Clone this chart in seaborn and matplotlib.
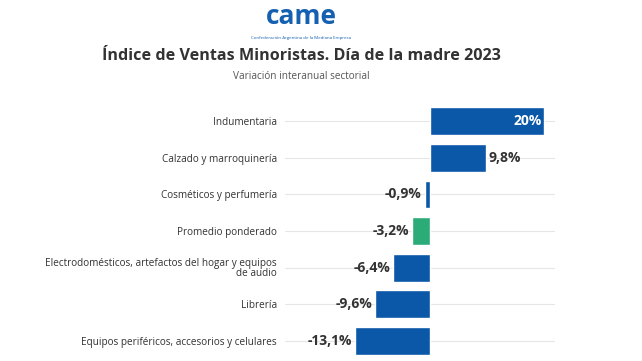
import matplotlib
matplotlib.use("Agg")
import matplotlib.pyplot as plt
import seaborn as sns
import pandas as pd

categories = [
    "Indumentaria",
    "Calzado y marroquinería",
    "Cosméticos y perfumería",
    "Promedio ponderado",
    "Electrodomésticos, artefactos del hogar y equipos\nde audio",
    "Librería",
    "Equipos periféricos, accesorios y celulares",
]
values = [20, 9.8, -0.9, -3.2, -6.4, -9.6, -13.1]
labels = ["20%", "9,8%", "-0,9%", "-3,2%", "-6,4%", "-9,6%", "-13,1%"]
kind = ["rubro", "rubro", "rubro", "promedio", "rubro", "rubro", "rubro"]

BLUE = "#0b57a8"
GREEN = "#2bab78"
TXT = "#333333"

sns.set_theme(style="white")
plt.rcParams["font.family"] = ["Open Sans", "DejaVu Sans"]

df = pd.DataFrame({"cat": categories, "val": values, "kind": kind})

fig = plt.figure(figsize=(6.42, 3.61), dpi=100)
ax = fig.add_axes([0.444, 0.0, 0.42, 0.715])

sns.barplot(data=df, x="val", y="cat", hue="kind", orient="h",
            palette={"rubro": BLUE, "promedio": GREEN}, saturation=1,
            width=0.76, legend=False, ax=ax)

ax.set_xlim(-25.4, 21.9)
ax.set_ylim(6.55, -0.5)
ax.set_xlabel("")
ax.set_ylabel("")
ax.set_xticks([])
for s in ax.spines.values():
    s.set_visible(False)
for i in range(len(categories)):
    ax.axhline(i, color="#e6e6e6", lw=0.8, zorder=0)
ax.tick_params(axis="y", length=0, pad=6, labelsize=7.2, labelcolor=TXT)
for t in ax.get_yticklabels():
    t.set_linespacing(0.9)

for i, (v, lab) in enumerate(zip(values, labels)):
    if v >= 15:
        ax.text(v - 0.4, i, lab, ha="right", va="center", color="white",
                fontsize=10, fontweight="bold")
    elif v > 0:
        ax.text(v + 0.5, i, lab, ha="left", va="center", color=TXT,
                fontsize=10, fontweight="bold")
    else:
        ax.text(v - 0.5, i, lab, ha="right", va="center", color=TXT,
                fontsize=10, fontweight="bold")

cx = 0.469
fig.text(cx, 0.955, "came", ha="center", va="center", color="#1560b0",
         fontsize=19, fontweight="bold")
fig.text(cx, 0.895, "Confederación Argentina de la Mediana Empresa", ha="center",
         va="center", color="#1560b0", fontsize=3.2)
fig.text(cx, 0.845, "Índice de Ventas Minoristas. Día de la madre 2023",
         ha="center", va="center", color=TXT, fontsize=11.6, fontweight="bold")
fig.text(cx, 0.787, "Variación interanual sectorial", ha="center", va="center",
         color="#555555", fontsize=7.2)

fig.savefig("out.png", dpi=100)
